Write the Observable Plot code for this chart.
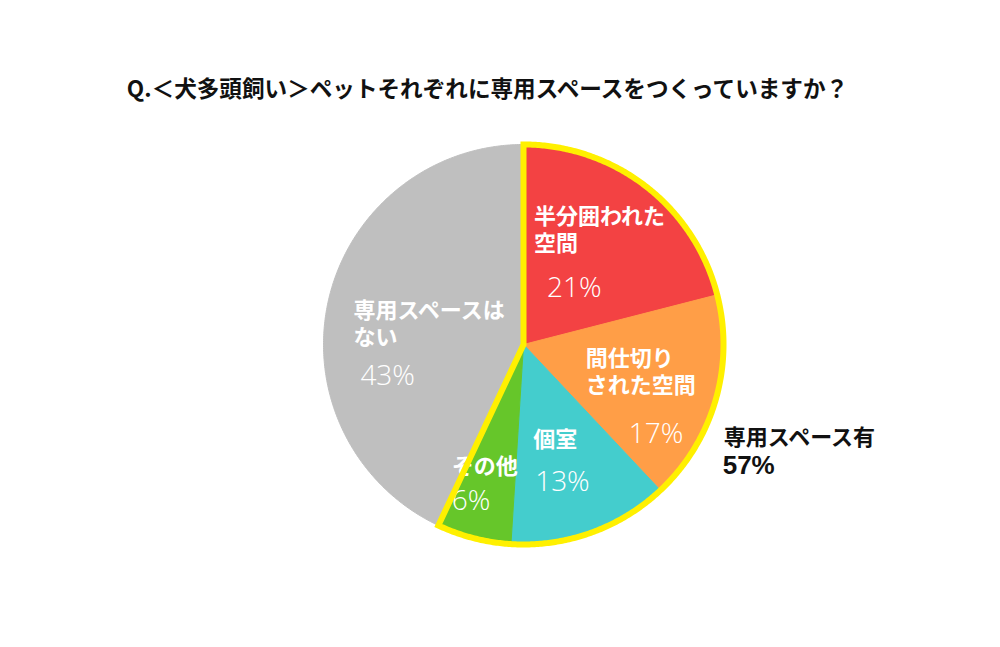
<!DOCTYPE html>
<html>
<head>
<meta charset="utf-8">
<script src="https://cdn.jsdelivr.net/npm/d3@7"></script>
<script src="https://cdn.jsdelivr.net/npm/@observablehq/plot@0.6"></script>
<style>
  html, body { margin: 0; padding: 0; background: #fff; }
  #wrap { width: 1000px; height: 647px; position: relative; overflow: hidden; }
  #title { height: 110px; position: relative; }
  #title span { position: absolute; left: 0; width: 975px; text-align: center; top: 74px; line-height: 28px;
    font-family: "Noto Sans CJK JP", "Noto Sans", sans-serif; font-weight: 700; font-size: 22.6px; color: #111; }
</style>
</head>
<body>
<div id="wrap">
  <div id="title"><span>Q.＜犬多頭飼い＞ペットそれぞれに専用スペースをつくっていますか？</span></div>
  <div id="chart"></div>
</div>
<script>
// ---- data ----
const categories = ["半分囲われた空間", "間仕切りされた空間", "個室", "その他", "専用スペースはない"];
const values = [21, 17, 13, 6, 43];
const pctLabels = ["21%", "17%", "13%", "6%", "43%"];
const nameLines = [["半分囲われた", "空間"], ["間仕切り", "された空間"], ["個室"], ["その他"], ["専用スペースは", "ない"]];
const groupLines = ["専用スペース有", "57%"];
const groupSize = 4; // first four categories form the outlined group

// ---- styles / layout ----
const colors = ["#F34243", "#FF9E47", "#44CDCD", "#66C62A", "#BFBFBF"];
const outlineColor = "#FFF000";
// label offsets (px) relative to each slice centroid: [name dx, first-line dy, pct dx, pct dy]
const labelLayout = [
  [-63, -34, -50, 38],
  [-53, -21, -10, 56],
  [-31, -19, -29, 25],
  [-42, 5, -42, 40],
  [-53, -9, -46, 58]
];
const lineGap = 27;
const nameSize = 22;

const W = 1000, H = 537, cx = 523, cy = 234, R = 200;

const total = d3.sum(values);
let acc = 0;
const slices = values.map((v, i) => {
  const a0 = acc / total * 2 * Math.PI;
  acc += v;
  const a1 = acc / total * 2 * Math.PI;
  const am = (a0 + a1) / 2;
  return {i, a0, a1, cxv: 0.6 * Math.sin(am), cyv: 0.6 * Math.cos(am)};
});

function arcPts(a0, a1) {
  const n = Math.max(2, Math.ceil((a1 - a0) / (Math.PI / 360)));
  return d3.range(n + 1).map(k => {
    const a = a0 + (a1 - a0) * k / n;
    return {x: Math.sin(a), y: Math.cos(a)};
  });
}

const marks = [];
slices.forEach(s => {
  const pts = [{x: 0, y: 0}, ...arcPts(s.a0, s.a1), {x: 0, y: 0}];
  marks.push(Plot.line(pts, {x: "x", y: "y", fill: colors[s.i], stroke: colors[s.i], strokeWidth: 1}));
});

const labelFont = "'Noto Sans CJK JP', 'Noto Sans', sans-serif";
slices.forEach(s => {
  const [ndx, ndy, pdx, pdy] = labelLayout[s.i];
  const lines = nameLines[s.i];
  marks.push(Plot.text([s], {x: "cxv", y: "cyv", text: () => lines.join("\n"), dx: ndx,
    dy: ndy + (lines.length - 1) * lineGap / 2, lineHeight: lineGap / nameSize,
    textAnchor: "start", fill: "white", fontSize: nameSize, fontWeight: "bold", fontFamily: labelFont}));
  marks.push(Plot.text([s], {x: "cxv", y: "cyv", text: () => pctLabels[s.i], dx: pdx, dy: pdy,
    textAnchor: "start", fill: "white", fontSize: 28, fontWeight: 300, fontFamily: "'Open Sans', 'Noto Sans', sans-serif"}));
});

// outline of group
const gEnd = slices[groupSize - 1].a1;
const gMid = gEnd / 2;
const outline = [...arcPts(gMid, gEnd), {x: 0, y: 0}, ...arcPts(0, gMid)];
marks.push(Plot.line(outline, {x: "x", y: "y", stroke: outlineColor, strokeWidth: 6, strokeLinejoin: "miter", strokeMiterlimit: 20}));

// group label
const gAnchor = [{gx: Math.sin(gMid), gy: Math.cos(gMid)}];
marks.push(Plot.text(gAnchor, {x: "gx", y: "gy", text: () => groupLines[0], dx: 5, dy: 50,
  textAnchor: "start", fill: "#111", fontSize: 22, fontWeight: "bold", fontFamily: labelFont}));
marks.push(Plot.text(gAnchor, {x: "gx", y: "gy", text: () => groupLines[1], dx: 4, dy: 78,
  textAnchor: "start", fill: "#111", fontSize: 26, fontWeight: "bold", fontFamily: "'Liberation Sans', Arial, sans-serif"}));

const chart = Plot.plot({
  width: W, height: H,
  marginLeft: cx - R, marginRight: W - (cx + R),
  marginTop: cy - R, marginBottom: H - (cy + R),
  x: {domain: [-1, 1], axis: null},
  y: {domain: [-1, 1], axis: null},
  style: {background: "white", overflow: "visible"},
  marks
});
document.getElementById("chart").appendChild(chart);
</script>
</body>
</html>
